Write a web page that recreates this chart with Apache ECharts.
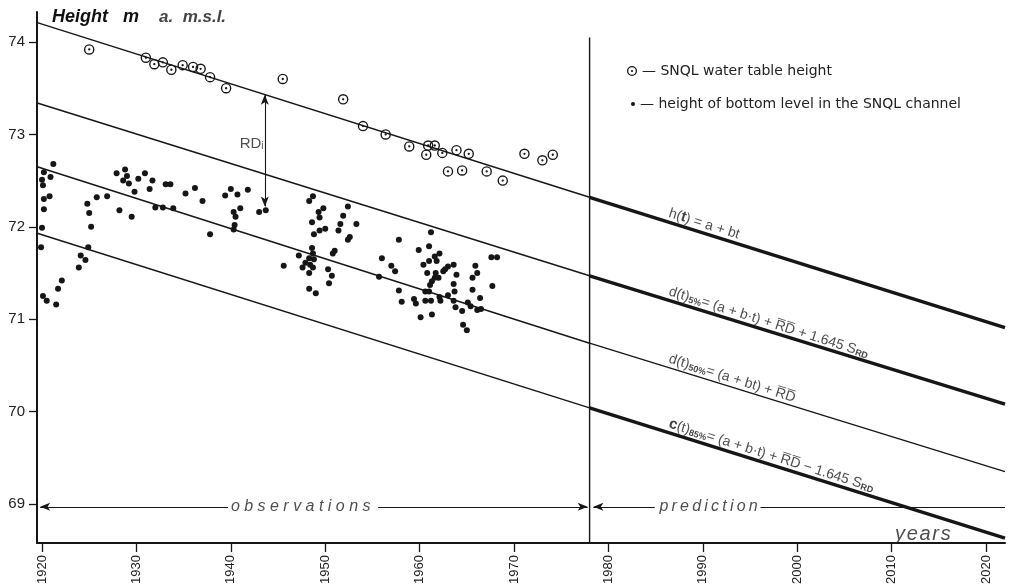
<!DOCTYPE html>
<html><head><meta charset="utf-8">
<script src="https://cdn.jsdelivr.net/npm/echarts@6/dist/echarts.min.js"></script>
<style>html,body{margin:0;padding:0;background:#fff}#c{width:1009px;height:584px}</style>
</head><body><div id="c"></div>
<script>
// ---------- data ----------
const xTickYears = [1920, 1930, 1940, 1950, 1960, 1970, 1980, 1990, 2000, 2010, 2020];
const yTickValues = [69, 70, 71, 72, 73, 74];

// SNQL water table height (open circles)
const waterTable = [
  [1925.0,73.92],[1931.0,73.83],[1931.9,73.76],[1932.8,73.78],[1933.7,73.70],[1934.9,73.75],
  [1936.0,73.73],[1936.8,73.71],[1937.8,73.62],[1939.5,73.50],[1945.5,73.60],[1951.9,73.38],
  [1954.0,73.09],[1956.4,73.00],[1958.9,72.87],[1960.7,72.78],[1960.9,72.88],[1961.6,72.88],
  [1962.4,72.80],[1963.9,72.83],[1965.2,72.79],[1963.0,72.60],[1964.5,72.61],[1967.1,72.60],
  [1968.8,72.50],[1971.1,72.79],[1973.0,72.72],[1974.1,72.78]
];

// height of bottom level in the SNQL channel (dots)
const bottomLevel = [
  [1921.2,72.68],[1920.2,72.59],[1920.0,72.51],[1920.1,72.45],[1920.9,72.54],[1920.2,72.30],
  [1920.8,72.33],[1920.2,72.19],[1920.0,71.99],[1919.9,71.78],[1920.1,71.25],[1920.5,71.20],
  [1921.5,71.16],[1921.7,71.33],[1922.1,71.42],[1923.9,71.56],[1924.1,71.69],[1924.6,71.64],
  [1924.9,71.78],[1925.2,72.00],[1925.0,72.15],[1924.8,72.25],[1925.8,72.32],[1926.9,72.33],
  [1928.2,72.18],[1929.5,72.11],[1927.9,72.58],[1928.8,72.62],[1929.0,72.55],[1928.6,72.50],
  [1929.2,72.47],[1930.2,72.52],[1930.9,72.58],[1931.7,72.50],[1931.4,72.41],[1929.8,72.38],
  [1932.0,72.21],[1932.8,72.21],[1933.9,72.20],[1933.1,72.46],[1933.6,72.46],[1935.2,72.36],
  [1936.2,72.42],[1937.0,72.28],[1937.8,71.92],[1939.4,72.34],[1940.0,72.41],[1940.7,72.35],
  [1941.8,72.40],[1941.0,72.20],[1940.3,72.16],[1940.5,72.11],[1940.4,72.02],[1940.3,71.97],
  [1943.0,72.16],[1943.7,72.18],
  [1948.7,72.33],[1948.3,72.28],[1949.8,72.20],[1949.3,72.16],[1949.4,72.10],[1948.6,72.05],
  [1952.4,72.22],[1951.9,72.12],[1951.6,72.03],[1953.3,72.03],[1951.4,71.96],[1950.0,71.98],
  [1949.4,71.96],[1948.8,71.92],[1952.6,71.89],[1952.4,71.86],[1948.6,71.77],[1951.0,71.74],
  [1950.8,71.71],[1947.2,71.69],[1948.7,71.71],[1948.3,71.66],[1948.8,71.65],[1947.9,71.61],
  [1948.4,71.59],[1947.6,71.56],[1948.7,71.56],[1945.6,71.58],[1948.3,71.50],[1950.3,71.54],
  [1950.7,71.47],[1950.4,71.39],[1948.3,71.33],[1949.0,71.28],[1956.0,71.66],[1957.0,71.58],
  [1957.4,71.52],[1955.7,71.46],[1957.8,71.86],[1957.8,71.31],
  [1961.2,71.94],[1959.9,71.75],[1961.0,71.79],[1961.6,71.68],[1962.1,71.71],[1961.0,71.63],
  [1960.4,71.59],[1961.8,71.63],[1963.6,71.59],[1963.0,71.57],[1962.7,71.54],[1962.5,71.52],
  [1960.8,71.50],[1961.7,71.50],[1962.0,71.45],[1961.6,71.45],[1961.3,71.41],[1961.1,71.37],
  [1963.9,71.48],[1965.9,71.58],[1966.1,71.50],[1965.6,71.45],[1963.6,71.38],[1963.7,71.30],
  [1965.6,71.32],[1967.6,71.67],[1968.2,71.67],[1967.7,71.36],[1966.4,71.23],[1958.1,71.19],
  [1959.4,71.22],[1959.6,71.17],[1960.6,71.30],[1961.0,71.30],[1960.6,71.20],[1961.2,71.20],
  [1962.1,71.24],[1962.2,71.20],[1963.0,71.26],[1963.6,71.20],[1963.8,71.13],[1964.5,71.09],
  [1965.1,71.18],[1965.4,71.14],[1966.1,71.10],[1966.5,71.11],[1960.1,71.02],[1961.3,71.05],
  [1964.6,70.94],[1965.0,70.88]
];

// fitted / prediction lines: values at start, split (1978) and end
const fitYears = [1919.5, 1978, 2022];
const hLine   = [74.21, 72.32, 70.91];
const d5Line  = [73.34, 71.47, 70.08];
const d50Line = [72.65, 70.74, 69.35];
const d85Line = [71.93, 70.04, 68.63];
const splitYear = 1978;
const splitTop = 74.05;
const rdYear = 1943.6, rdTop = 73.43, rdBottom = 72.22;
const arrowLevel = 68.97;

// ---------- chart ----------
const INK = '#161616';
const FONT = 'Liberation Sans';
const LFONT = 'DejaVu Sans';
const ring = 'path://M0,-10A10,10 0 1,1 0,10A10,10 0 1,1 0,-10ZM0,-7.4A7.4,7.4 0 1,0 0,7.4A7.4,7.4 0 1,0 0,-7.4ZM0,-2.2A2.2,2.2 0 1,1 0,2.2A2.2,2.2 0 1,1 0,-2.2Z';

function onLine(vals, yr) {
  const i = yr <= fitYears[1] ? 0 : 1;
  const t = (yr - fitYears[i]) / (fitYears[i + 1] - fitYears[i]);
  return vals[i] + t * (vals[i + 1] - vals[i]);
}

const series = [];
function addFit(vals, boldPred) {
  series.push({type:'line', silent:true, symbol:'none', animation:false, z:2,
    data:[[fitYears[0], vals[0]], [fitYears[1], vals[1]]], lineStyle:{color:INK, width:1.4}});
  series.push({type:'line', silent:true, symbol:'none', animation:false, z:2,
    data:[[fitYears[1], vals[1]], [fitYears[2], vals[2]]], lineStyle:{color:INK, width: boldPred ? 3.4 : 1.3}});
}
addFit(hLine, true); addFit(d5Line, true); addFit(d50Line, false); addFit(d85Line, true);

// separator line
series.push({type:'line', silent:true, symbol:'none', animation:false, z:2,
  data:[[splitYear, 68.578], [splitYear, splitTop]], lineStyle:{color:INK, width:1.4}});

// arrows
const arr = (x1, y1, s1, x2, y2, s2) => [
  {coord:[x1, y1], symbol:s1}, {coord:[x2, y2], symbol:s2}];
series.push({type:'line', silent:true, data:[], animation:false,
  markLine:{silent:true, animation:false, symbolSize:[6,10], label:{show:false},
    lineStyle:{color:INK, width:1.1, type:'solid'},
    data:[
      arr(1919.8, arrowLevel, 'arrow', 1939.7, arrowLevel, 'none'),
      arr(1955.6, arrowLevel, 'none', 1977.8, arrowLevel, 'arrow'),
      arr(1978.4, arrowLevel, 'arrow', 1984.9, arrowLevel, 'none'),
      arr(1996.1, arrowLevel, 'none', 2022, arrowLevel, 'none'),
      arr(rdYear, rdTop, 'arrow', rdYear, rdBottom, 'arrow')
    ]}});

series.push({name:'SNQL water table height', type:'scatter', symbol:ring, symbolSize:10.5,
  itemStyle:{color:INK, opacity:1}, data:waterTable, z:4, animation:false});
series.push({name:'height of bottom level in the SNQL channel', type:'scatter', symbol:'circle', symbolSize:6,
  itemStyle:{color:INK, opacity:1}, data:bottomLevel, z:4, animation:false});

// text annotations
const rich = {
  t:{fontSize:14, color:'#222', fontFamily:FONT, verticalAlign:'bottom', lineHeight:18},
  tb:{fontSize:15, color:'#111', fontFamily:FONT, fontWeight:'bold', verticalAlign:'bottom', lineHeight:18},
  s:{fontSize:9, color:'#111', fontFamily:FONT, fontWeight:'bold', verticalAlign:'bottom', lineHeight:12},
  it:{fontSize:16, color:'#222', fontFamily:FONT, fontStyle:'italic'},
  yr:{fontSize:20, color:'#222', fontFamily:FONT, fontStyle:'italic'},
  rd:{fontSize:15, color:'#222', fontFamily:FONT},
  rds:{fontSize:10, color:'#222', fontFamily:FONT, verticalAlign:'bottom', lineHeight:12}
};
const spaced = (s, gap) => s.split('').join(gap);
const labelYear = 1986.2;
const rot = {rotate:-17.5, position:'right', distance:0, align:'left', verticalAlign:'bottom'};
const annotations = [
  {value:[labelYear, onLine(hLine, labelYear) + 0.02], txt:'{t|h(}{tb|t}{t|) = a + bt}', label:rot},
  {value:[labelYear, onLine(d5Line, labelYear) + 0.02], txt:'{t|d(t)}{s|5%}{t|= (a + b·t) + R\u0305D\u0305 + 1.645 S}{s|RD}', label:rot},
  {value:[labelYear, onLine(d50Line, labelYear) + 0.02], txt:'{t|d(t)}{s|50%}{t|= (a + bt) + R\u0305D\u0305}', label:rot},
  {value:[labelYear, onLine(d85Line, labelYear) + 0.02], txt:'{tb|c}{t|(t)}{s|85%}{t|= (a + b·t) + R\u0305D\u0305 \u2212 1.645 S}{s|RD}', label:rot},
  {value:[1947.4, arrowLevel], txt:'{it|' + spaced('observations', ' ') + '}', label:{position:'inside'}},
  {value:[1990.6, arrowLevel], txt:'{it|' + spaced('prediction', '\u2009') + '}', label:{position:'inside'}},
  {value:[2013.3, 68.67], txt:'{yr|' + spaced('years', '\u200a') + '}', label:{position:'inside'}},
  {value:[1942.2, 72.90], txt:'{rd|RD}{rds|i}', label:{position:'inside'}}
];
series.push({type:'scatter', silent:true, symbolSize:0, z:6, animation:false,
  data:annotations,
  label:{show:true, color:'#222', formatter:p => p.data.txt, rich:rich}});

const chart = echarts.init(document.getElementById('c'), null, {renderer:'canvas'});
chart.setOption({
  backgroundColor:'#ffffff',
  animation:false,
  title:{left:47, top:3, text:'{b|Height}   {b|m}    {n|a.  m.s.l.}',
    textStyle:{rich:{
      b:{fontSize:18, fontWeight:'bold', fontStyle:'italic', color:'#111', fontFamily:FONT},
      n:{fontSize:17, fontStyle:'italic', color:'#444', fontFamily:FONT}}}},
  legend:[
    {data:['SNQL water table height'], left:622, top:59, orient:'vertical', itemWidth:10, itemHeight:10,
      selectedMode:false, formatter:'\u2014 {name}', textStyle:{fontSize:14, color:'#222', fontFamily:LFONT}},
    {data:['height of bottom level in the SNQL channel'], left:626, top:92, orient:'vertical', itemWidth:4, itemHeight:4,
      selectedMode:false, formatter:'\u2014 {name}', textStyle:{fontSize:14, color:'#222', fontFamily:LFONT}}
  ],
  grid:{left:37, right:4, top:12, bottom:41, outerBoundsMode:'none', containLabel:false},
  xAxis:{type:'value', min:1919.47, max:2022.0,
    axisLine:{show:true, onZero:false, lineStyle:{color:INK, width:2}},
    axisTick:{show:true, length:9, customValues:xTickYears, lineStyle:{color:INK, width:1.3}},
    axisLabel:{customValues:xTickYears, rotate:90, margin:12, fontSize:13, color:'#222', fontFamily:FONT,
      formatter:v => String(v)},
    splitLine:{show:false}},
  yAxis:{type:'value', min:68.578, max:74.325,
    axisLine:{show:true, onZero:false, lineStyle:{color:INK, width:2}},
    axisTick:{show:true, length:8, customValues:yTickValues, lineStyle:{color:INK, width:1.3}},
    axisLabel:{customValues:yTickValues, margin:12, fontSize:15, color:'#222', fontFamily:FONT,
      formatter:v => String(v)},
    splitLine:{show:false}},
  series:series
});
</script></body></html>
